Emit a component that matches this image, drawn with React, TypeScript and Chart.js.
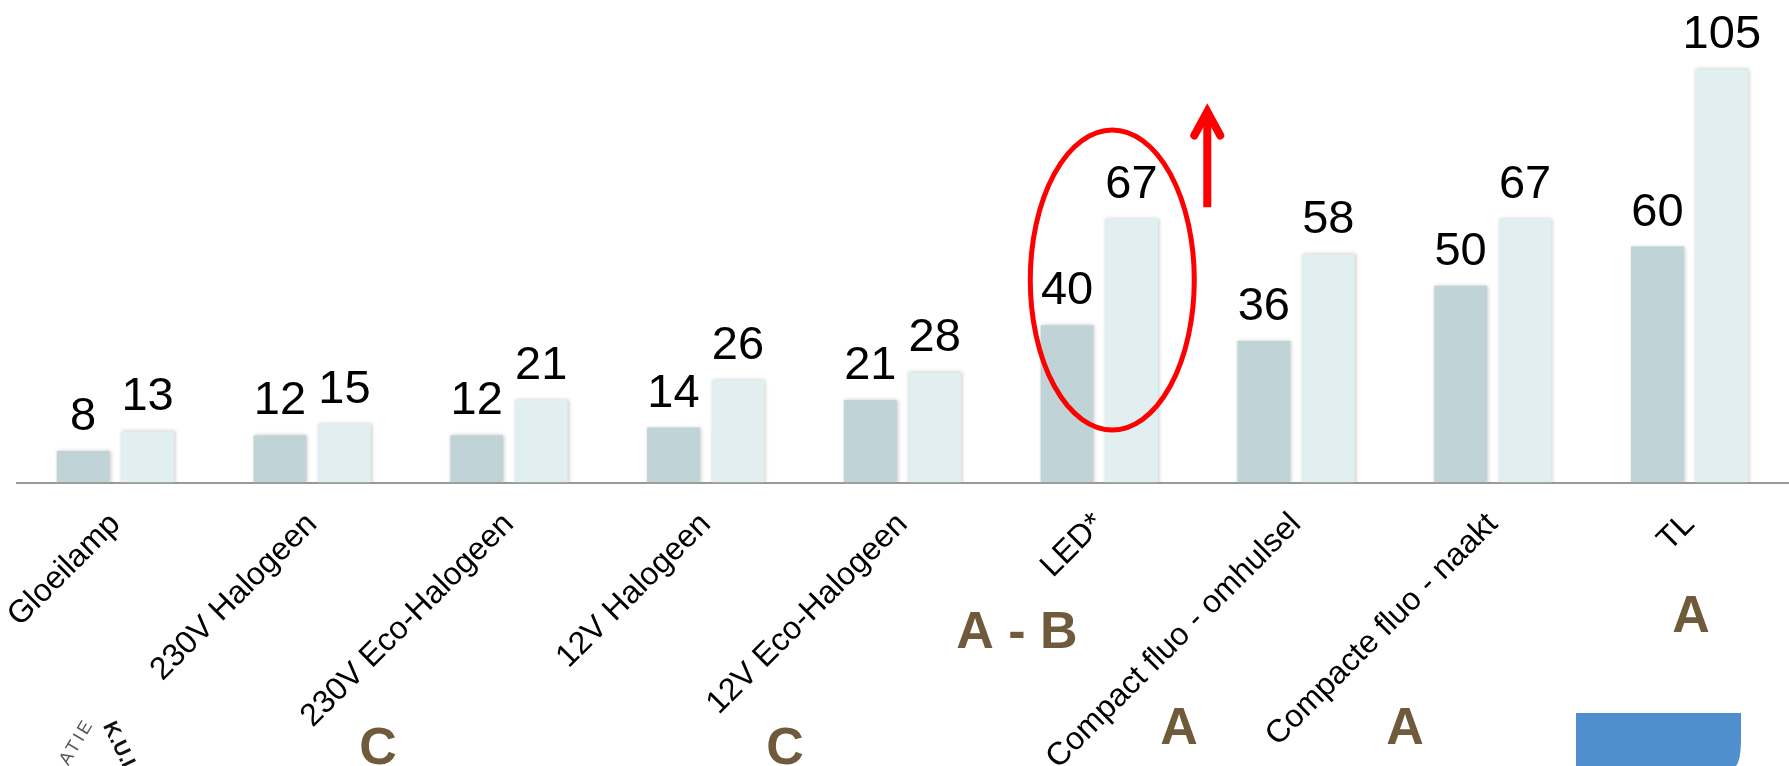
import React, { useEffect, useRef } from "react";
import { Chart, registerables } from "chart.js";

Chart.register(...registerables);

// Lamp types and their efficiency range (lm/W): lower and upper bound
const categories = [
  "Gloeilamp",
  "230V Halogeen",
  "230V Eco-Halogeen",
  "12V Halogeen",
  "12V Eco-Halogeen",
  "LED*",
  "Compact fluo - omhulsel",
  "Compacte fluo - naakt",
  "TL",
];
const lowValues = [8, 12, 12, 14, 21, 40, 36, 50, 60];
const highValues = [13, 15, 21, 26, 28, 67, 58, 67, 105];

// Energy labels placed below the axis
const classLabels = ["C", "C", "A - B", "A", "A", "A"];
const classLabelX = [378, 785, 1017, 1179, 1405, 1691];
const classLabelY = [764, 764, 648, 744, 744, 632];

const W = 1789;
const H = 766;
const FONT = '"Liberation Sans", Arial, Helvetica, sans-serif';

const decorations = {
  id: "decorations",
  beforeDatasetsDraw(chart: any) {
    const ctx = chart.ctx;
    ctx.save();
    ctx.shadowColor = "rgba(0,0,0,0.22)";
    ctx.shadowBlur = 4;
    ctx.shadowOffsetX = 1;
    ctx.shadowOffsetY = 0;
  },
  afterDatasetsDraw(chart: any) {
    const ctx = chart.ctx;
    ctx.restore();
    ctx.save();
    ctx.font = `47px ${FONT}`;
    ctx.fillStyle = "#000";
    ctx.textAlign = "center";
    ctx.textBaseline = "alphabetic";
    chart.data.datasets.forEach((ds: any, i: number) => {
      const meta = chart.getDatasetMeta(i);
      meta.data.forEach((bar: any, j: number) => {
        ctx.fillText(String(ds.data[j]), bar.x, bar.y - 21);
      });
    });
    ctx.restore();
  },
  afterDraw(chart: any) {
    const ctx = chart.ctx;
    const xs = chart.scales.x;
    const ys = chart.scales.y;
    ctx.save();

    // highlight around the LED group
    const ledX = xs.getPixelForValue(5) + 13;
    const ledY = ys.getPixelForValue(51.5);
    ctx.strokeStyle = "#ff0000";
    ctx.lineWidth = 5;
    ctx.beginPath();
    ctx.ellipse(ledX, ledY, 82, 150, 0, 0, Math.PI * 2);
    ctx.stroke();

    // upward arrow
    const ax = ledX + 95;
    const tipY = ys.getPixelForValue(94.3);
    const baseY = ys.getPixelForValue(70);
    ctx.lineWidth = 8;
    ctx.lineCap = "butt";
    ctx.beginPath();
    ctx.moveTo(ax, baseY);
    ctx.lineTo(ax, tipY + 4);
    ctx.stroke();
    ctx.lineCap = "round";
    ctx.lineJoin = "miter";
    ctx.beginPath();
    ctx.moveTo(ax - 13, tipY + 24);
    ctx.lineTo(ax, tipY);
    ctx.lineTo(ax + 13, tipY + 24);
    ctx.stroke();

    // energy labels
    ctx.fillStyle = "#6f5b3b";
    ctx.font = `bold 52px ${FONT}`;
    ctx.textAlign = "center";
    ctx.textBaseline = "alphabetic";
    classLabels.forEach((t, i) => {
      ctx.fillText(t, classLabelX[i], classLabelY[i]);
    });

    // blue tab in the corner
    ctx.fillStyle = "#4f8fcd";
    ctx.beginPath();
    ctx.moveTo(1576, 713);
    ctx.lineTo(1741, 713);
    ctx.lineTo(1741, 738);
    ctx.quadraticCurveTo(1741, 760, 1736, H);
    ctx.lineTo(1576, H);
    ctx.closePath();
    ctx.fill();

    // logo lettering
    ctx.save();
    ctx.translate(77, 742);
    ctx.rotate(-1.03);
    ctx.fillStyle = "#555";
    ctx.font = `18px ${FONT}`;
    (ctx as any).letterSpacing = "3px";
    ctx.textAlign = "center";
    ctx.textBaseline = "middle";
    ctx.fillText("ATIE", 0, 0);
    ctx.restore();

    ctx.save();
    ctx.translate(108, 723);
    ctx.rotate(1.12);
    ctx.fillStyle = "#111";
    ctx.font = `bold 21px ${FONT}`;
    ctx.textAlign = "left";
    ctx.textBaseline = "middle";
    ctx.fillText("K.U.L", 0, 0);
    ctx.restore();

    ctx.restore();
  },
};

export default function App() {
  const ref = useRef<HTMLCanvasElement | null>(null);

  useEffect(() => {
    if (!ref.current) return;
    const chart = new Chart(ref.current, {
      type: "bar",
      data: {
        labels: categories,
        datasets: [
          {
            data: lowValues,
            backgroundColor: "#c0d3d7",
            borderWidth: 0,
            barPercentage: 0.82,
            categoryPercentage: 0.655,
          },
          {
            data: highValues,
            backgroundColor: "#e2eff1",
            borderWidth: 0,
            barPercentage: 0.82,
            categoryPercentage: 0.655,
          },
        ],
      },
      options: {
        responsive: false,
        animation: false,
        devicePixelRatio: 1,
        layout: { padding: { left: 17, right: 1, top: 10.4, bottom: 0 } },
        plugins: {
          legend: { display: false },
          tooltip: { enabled: false },
        },
        scales: {
          x: {
            grid: { display: false, drawTicks: false },
            border: { display: true, color: "#9a9a9a", width: 2 },
            ticks: {
              autoSkip: false,
              minRotation: 45,
              maxRotation: 45,
              padding: 23,
              color: "#000",
              font: { family: FONT, size: 32 },
            },
            afterFit: (scale: any) => {
              scale.height = H - 482.6;
              scale.paddingLeft = 0;
              scale.paddingRight = 0;
            },
          },
          y: {
            display: false,
            min: 0,
            max: 120,
          },
        },
      },
      plugins: [decorations],
    });
    return () => chart.destroy();
  }, []);

  return (
    <div style={{ position: "absolute", left: 0, top: 0, width: W, height: H, background: "#fff" }}>
      <canvas ref={ref} width={W} height={H} style={{ display: "block" }} />
    </div>
  );
}
